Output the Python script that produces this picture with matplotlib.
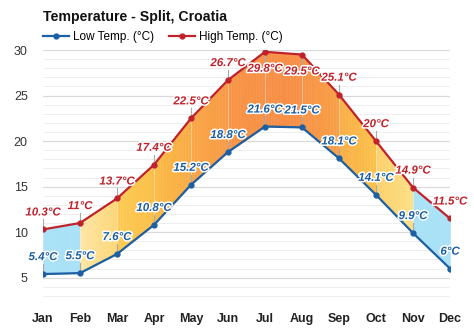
import numpy as np
import matplotlib.pyplot as plt
import matplotlib.patheffects as pe

plt.rcParams["font.family"] = ["Liberation Sans", "DejaVu Sans"]

months = ["Jan", "Feb", "Mar", "Apr", "May", "Jun",
          "Jul", "Aug", "Sep", "Oct", "Nov", "Dec"]
low_temp = [5.4, 5.5, 7.6, 10.8, 15.2, 18.8, 21.6, 21.5, 18.1, 14.1, 9.9, 6.0]
high_temp = [10.3, 11.0, 13.7, 17.4, 22.5, 26.7, 29.8, 29.5, 25.1, 20.0, 14.9, 11.5]
low_labels = ["5.4°C", "5.5°C", "7.6°C", "10.8°C", "15.2°C", "18.8°C",
              "21.6°C", "21.5°C", "18.1°C", "14.1°C", "9.9°C", "6°C"]
high_labels = ["10.3°C", "11°C", "13.7°C", "17.4°C", "22.5°C", "26.7°C",
               "29.8°C", "29.5°C", "25.1°C", "20°C", "14.9°C", "11.5°C"]

# band colour for each month-to-month segment (left, right)
seg_colors = [
    ("#a9e1f7", "#a9e1f7"),
    ("#fde7a6", "#fcd676"),
    ("#fcca55", "#fbbf48"),
    ("#fbbb47", "#faab44"),
    ("#f9a646", "#f89a46"),
    ("#f79546", "#f79046"),
    ("#f79046", "#f79046"),
    ("#f79346", "#f8a046"),
    ("#f9ae46", "#fbc24c"),
    ("#fcd06a", "#fddf88"),
    ("#a9e1f7", "#a9e1f7"),
]

red = "#c0222c"
blue = "#1d5fa3"

fig = plt.figure(figsize=(4.74, 3.31), dpi=100)
ax = fig.add_axes([43 / 474, 1 - 305 / 331, 407 / 474, 255 / 331])

x = np.arange(len(months))
ymax = 30


def hex2rgb(h):
    return np.array([int(h[i:i + 2], 16) for i in (1, 3, 5)]) / 255.0


# filled band between the two curves, shaded per segment
for i in range(len(months) - 1):
    c0, c1 = hex2rgb(seg_colors[i][0]), hex2rgb(seg_colors[i][1])
    n = 12
    for k in range(n):
        t0, t1 = k / n, (k + 1) / n
        xs = [x[i] + t0, x[i] + t1]
        lo = [low_temp[i] + (low_temp[i + 1] - low_temp[i]) * t for t in (t0, t1)]
        hi = [high_temp[i] + (high_temp[i + 1] - high_temp[i]) * t for t in (t0, t1)]
        col = c0 + (c1 - c0) * (t0 + t1) / 2
        ax.fill_between(xs, lo, hi, color=col, lw=0.3, ec=col, zorder=1)

# faint month separators inside the band
for i in range(1, len(months) - 1):
    ax.plot([x[i], x[i]], [low_temp[i], high_temp[i]], color="white", alpha=0.35, lw=0.8, zorder=2)

ax.plot(x, low_temp, color=blue, lw=1.6, marker="o", ms=3.5, zorder=4, label="Low Temp. (°C)")
ax.plot(x, high_temp, color=red, lw=1.6, marker="o", ms=3.5, zorder=4, label="High Temp. (°C)")

stroke = [pe.withStroke(linewidth=2.2, foreground="white")]


def value_label(xi, v, s, color):
    # labels that would run past the top of the chart go under the point
    d = -1 if v + 2.5 > ymax else 1
    ax.plot([xi, xi], [v, v + d * 1.1], color="#aaaaaa", lw=0.8, zorder=3)
    ax.text(xi, v + d * 1.2, s, color=color, fontsize=8.3, fontweight="bold", style="italic",
            ha="center", va="bottom" if d > 0 else "top", path_effects=stroke, zorder=5)


for xi, v, s in zip(x, high_temp, high_labels):
    value_label(xi, v, s, red)
for xi, v, s in zip(x, low_temp, low_labels):
    value_label(xi, v, s, blue)

ax.set_xlim(0, 11)
ax.set_ylim(2, ymax)
ax.set_xticks(x)
ax.set_xticklabels(months, fontweight="bold", fontsize=9, color="#222222")
ax.set_yticks(range(5, 31, 5))
ax.set_yticks(range(2, 31), minor=True)
ax.tick_params(axis="y", labelsize=9, labelcolor="#333333", length=0, pad=11)
ax.tick_params(axis="y", which="minor", length=0)
ax.tick_params(axis="x", length=0, pad=6)
ax.grid(axis="y", which="major", color="#d9d9d9", lw=0.9, zorder=0)
ax.grid(axis="y", which="minor", color="#eeeeee", lw=0.7, zorder=0)
ax.set_axisbelow(True)
for sp in ax.spines.values():
    sp.set_visible(False)

fig.text(43 / 474, 1 - 17 / 331, "Temperature - Split, Croatia", fontsize=10.2,
         fontweight="bold", ha="left", va="center", color="#111111")
fig.legend(loc="center left", bbox_to_anchor=(38 / 474, 1 - 37 / 331), ncol=2,
           frameon=False, fontsize=8.5, handlelength=2.2, handletextpad=0.4,
           columnspacing=1.2, borderaxespad=0)

fig.savefig("out.png", dpi=100)
